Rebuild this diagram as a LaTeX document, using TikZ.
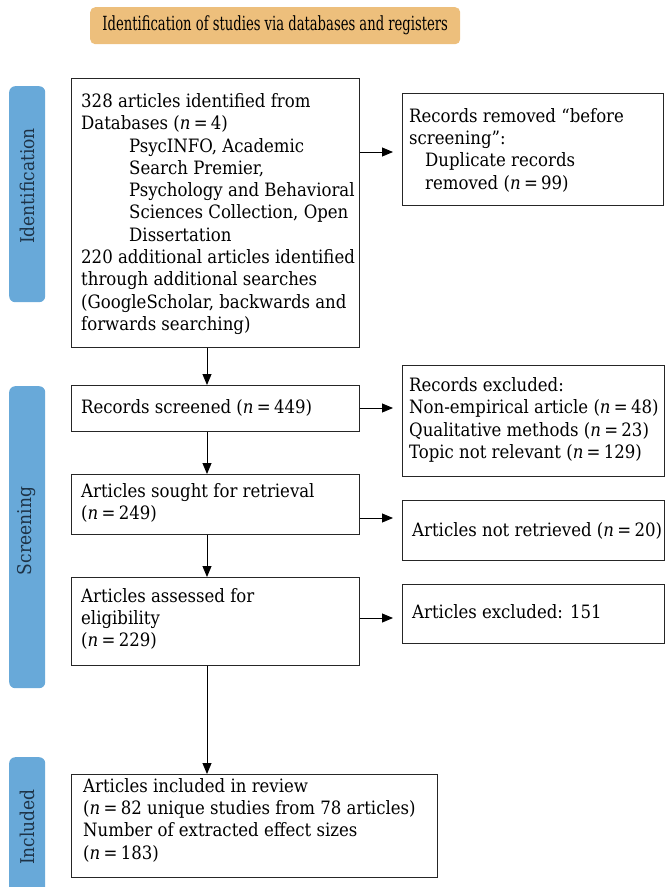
\documentclass[tikz,border=0pt]{standalone}
\usepackage{fontspec}
\setmainfont{DejaVu Serif Condensed}
\usetikzlibrary{arrows.meta,positioning}
\definecolor{hdr}{HTML}{EDBF7C}
\definecolor{side}{HTML}{68A9D9}
\definecolor{sidetxt}{HTML}{1E3347}
\newcommand{\nEq}{\textit{n}\hspace{0.18em}=\hspace{0.18em}}
\begin{document}
\begin{tikzpicture}[x=1pt,y=-1pt,
  font=\fontsize{18.4}{22.3}\selectfont,
  box/.style={draw=black!85, line width=0.9pt, fill=white, anchor=north west, inner sep=0pt},
  txt/.style={anchor=west, align=left, inner sep=0pt},
  sidelab/.style={fill=side, rounded corners=6pt, anchor=north west, inner sep=0pt},
  sidetext/.style={rotate=90, text=sidetxt, inner sep=0pt, font=\fontsize{19}{22}\selectfont},
  vflow/.style={-{Triangle[length=11pt,width=9pt]}, line width=0.9pt, black},
  hflow/.style={-{Triangle[length=11pt,width=9pt]}, line width=0.9pt, draw=black!65, color=black}
]
\useasboundingbox (0,0) rectangle (665,887);

% header
\node[fill=hdr, rounded corners=5pt, anchor=north west, minimum width=370pt, minimum height=37pt, inner sep=0pt] (hdr) at (90,7) {};
\node[inner sep=0pt, font=\fontsize{19.5}{22}\selectfont] (hdrt) at (hdr.center) {\scalebox{0.75}[1]{Identification of studies via databases and registers}};

% side labels
\node[sidelab, minimum width=36pt, minimum height=216pt] (sid) at (9,86) {};
\node[sidetext] at (27,186) {Identification};
\node[sidelab, minimum width=36pt, minimum height=302pt] (sscr) at (9,386) {};
\node[sidetext] at (27,531) {Screening};
\node[sidelab, minimum width=36pt, minimum height=140pt] (sinc) at (9,757) {};
\node[sidetext] at (27,827) {Included};

% main boxes
\node[box, minimum width=288pt, minimum height=269pt] (b1) at (71,78) {};
\node[txt] at (81,214) {328 articles identified from\\
Databases (\nEq 4)\\
\hspace*{48pt}PsycINFO, Academic\\
\hspace*{48pt}Search Premier,\\
\hspace*{48pt}Psychology and Behavioral\\
\hspace*{48pt}Sciences Collection, Open\\
\hspace*{48pt}Dissertation\\
220 additional articles identified\\
through additional searches\\
(GoogleScholar, backwards and\\
forwards searching)};

\node[box, minimum width=261pt, minimum height=112pt] (b2) at (402,93) {};
\node[txt] at (409,150) {Records removed “before\\
screening”:\\
\hspace*{16pt}Duplicate records\\
\hspace*{16pt}removed (\nEq 99)};

\node[box, minimum width=288pt, minimum height=46pt] (b3) at (71,385) {};
\node[txt] at (81,408) {Records screened (\nEq 449)};

\node[box, minimum width=262pt, minimum height=111pt] (b4) at (402,365) {};
\node[txt] at (409,420) {Records excluded:\\
Non-empirical article (\nEq 48)\\
Qualitative methods (\nEq 23)\\
Topic not relevant (\nEq 129)};

\node[box, minimum width=288pt, minimum height=60pt] (b5) at (71,474) {};
\node[txt] at (81,503) {Articles sought for retrieval\\
(\nEq 249)};

\node[box, minimum width=262pt, minimum height=60pt] (b6) at (402,500) {};
\node[txt] at (412,531) {Articles not retrieved (\nEq 20)};

\node[box, minimum width=288pt, minimum height=88pt] (b7) at (71,577) {};
\node[txt] at (81,619) {Articles assessed for\\
eligibility\\
(\nEq 229)};

\node[box, minimum width=262pt, minimum height=59pt] (b8) at (402,584) {};
\node[txt] at (412,612) {Articles excluded: 151};

\node[box, minimum width=366pt, minimum height=103pt] (b9) at (71,774) {};
\node[txt] at (83,820) {Articles included in review\\
(\nEq 82 unique studies from 78 articles)\\
Number of extracted effect sizes\\
(\nEq 183)};

% connectors
\draw[vflow] (b1.south -| 207,0) -- (b3.north -| 207,0);
\draw[vflow] (b3.south -| 207,0) -- (b5.north -| 207,0);
\draw[vflow] (b5.south -| 207,0) -- (b7.north -| 207,0);
\draw[vflow] (b7.south -| 207,0) -- (b9.north -| 207,0);

\coordinate (a1) at (393,152);
\draw[hflow] (b1.east |- a1) -- (a1);
\coordinate (a2) at (393,408);
\draw[hflow] (b3.east |- a2) -- (a2);
\coordinate (a3) at (393,518);
\draw[hflow] (b5.east |- a3) -- (a3);
\coordinate (a4) at (393,618);
\draw[hflow] (b7.east |- a4) -- (a4);
\end{tikzpicture}
\end{document}
